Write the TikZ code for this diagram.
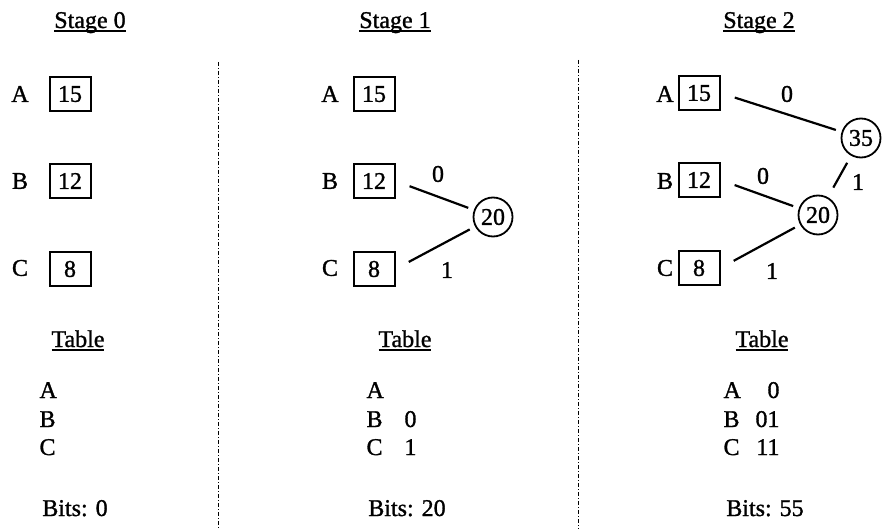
\documentclass[tikz,border=0pt]{standalone}
\usepackage{fontspec}
\setmainfont{Liberation Serif}[BoldFont={Liberation Serif},BoldFeatures={FakeBold=1.2}]
\newcommand{\ulined}[1]{\setbox0\hbox{#1}\rlap{\rule[-3.6pt]{\wd0}{2pt}}\box0}
\begin{document}
\begin{tikzpicture}[x=1pt,y=-1pt,font=\fontsize{24}{28}\selectfont\bfseries,
  box/.style={draw,line width=2pt,minimum width=41pt,minimum height=34pt,inner sep=0pt},
  sum/.style={draw,circle,line width=1.8pt,minimum size=39pt,inner sep=0pt},
  link/.style={line width=2.2pt,shorten <=15pt,shorten >=6pt},
  divider/.style={line width=.9pt,dash pattern=on 4pt off 2pt on 1pt off 2pt}]
\useasboundingbox (0,0) rectangle (882,529);
\draw[divider] (218,62) -- (218,529);
\draw[divider] (578,60) -- (578,529);
% Stage 0
\node[anchor=base] (st0) at (90,28) {\ulined{Stage 0}};
\node (la0) at (20,94) {A};
\node (lb0) at (20,181) {B};
\node (lc0) at (20,268) {C};
\node[box] (ba0) at (70,94) {15};
\node[box] (bb0) at (70,181) {12};
\node[box] (bc0) at (70,269) {8};
\node[anchor=base] (tb0) at (78,347) {\ulined{Table}};
\node[anchor=base west] (ra0) at (36,398) {A};
\node[anchor=base west] (rb0) at (36,427) {B};
\node[anchor=base west] (rc0) at (36,455) {C};
\node[anchor=base] (bits0) at (75,516) {Bits: 0};
% Stage 1
\node[anchor=base] (st1) at (395,28) {\ulined{Stage 1}};
\node (la1) at (330,94) {A};
\node (lb1) at (330,181) {B};
\node (lc1) at (330,268) {C};
\node[box] (ba1) at (374,94) {15};
\node[box] (bb1) at (374,181) {12};
\node[box] (bc1) at (374,269) {8};
\node[sum] (c1) at (493,217) {20};
\draw[link] (bb1.east) -- (c1);
\draw[link] (bc1.east) -- (c1);
\node (e10) at (438,174) {0};
\node (e11) at (447,270) {1};
\node[anchor=base] (tb1) at (405,347) {\ulined{Table}};
\node[anchor=base west] (ra1) at (363,398) {A};
\node[anchor=base west] (rb1) at (363,427) {B};
\node[anchor=base west] (rc1) at (363,455) {C};
\node[anchor=base east] (cb1) at (420,427) {0};
\node[anchor=base east] (cc1) at (420,455) {1};
\node[anchor=base] (bits1) at (407,516) {Bits: 20};
% Stage 2
\node[anchor=base] (st2) at (759,28) {\ulined{Stage 2}};
\node (la2) at (665,94) {A};
\node (lb2) at (665,181) {B};
\node (lc2) at (665,268) {C};
\node[box] (ba2) at (699,93) {15};
\node[box] (bb2) at (699,180) {12};
\node[box] (bc2) at (699,268) {8};
\node[sum] (c2) at (818,215) {20};
\node[sum] (c3) at (861,138) {35};
\draw[link] (ba2.east) -- (c3);
\draw[link] (bb2.east) -- (c2);
\draw[link] (bc2.east) -- (c2);
\draw[link,shorten <=11pt,shorten >=8pt] (c2) -- (c3);
\node (e20) at (787,94) {0};
\node (e21) at (763,176) {0};
\node (e22) at (858,182) {1};
\node (e23) at (772,271) {1};
\node[anchor=base] (tb2) at (762,347) {\ulined{Table}};
\node[anchor=base west] (ra2) at (720,398) {A};
\node[anchor=base west] (rb2) at (720,427) {B};
\node[anchor=base west] (rc2) at (720,455) {C};
\node[anchor=base east] (ca2) at (783,398) {0};
\node[anchor=base east] (cb2) at (783,427) {01};
\node[anchor=base east] (cc2) at (783,455) {11};
\node[anchor=base] (bits2) at (765,516) {Bits: 55};
\end{tikzpicture}
\end{document}
